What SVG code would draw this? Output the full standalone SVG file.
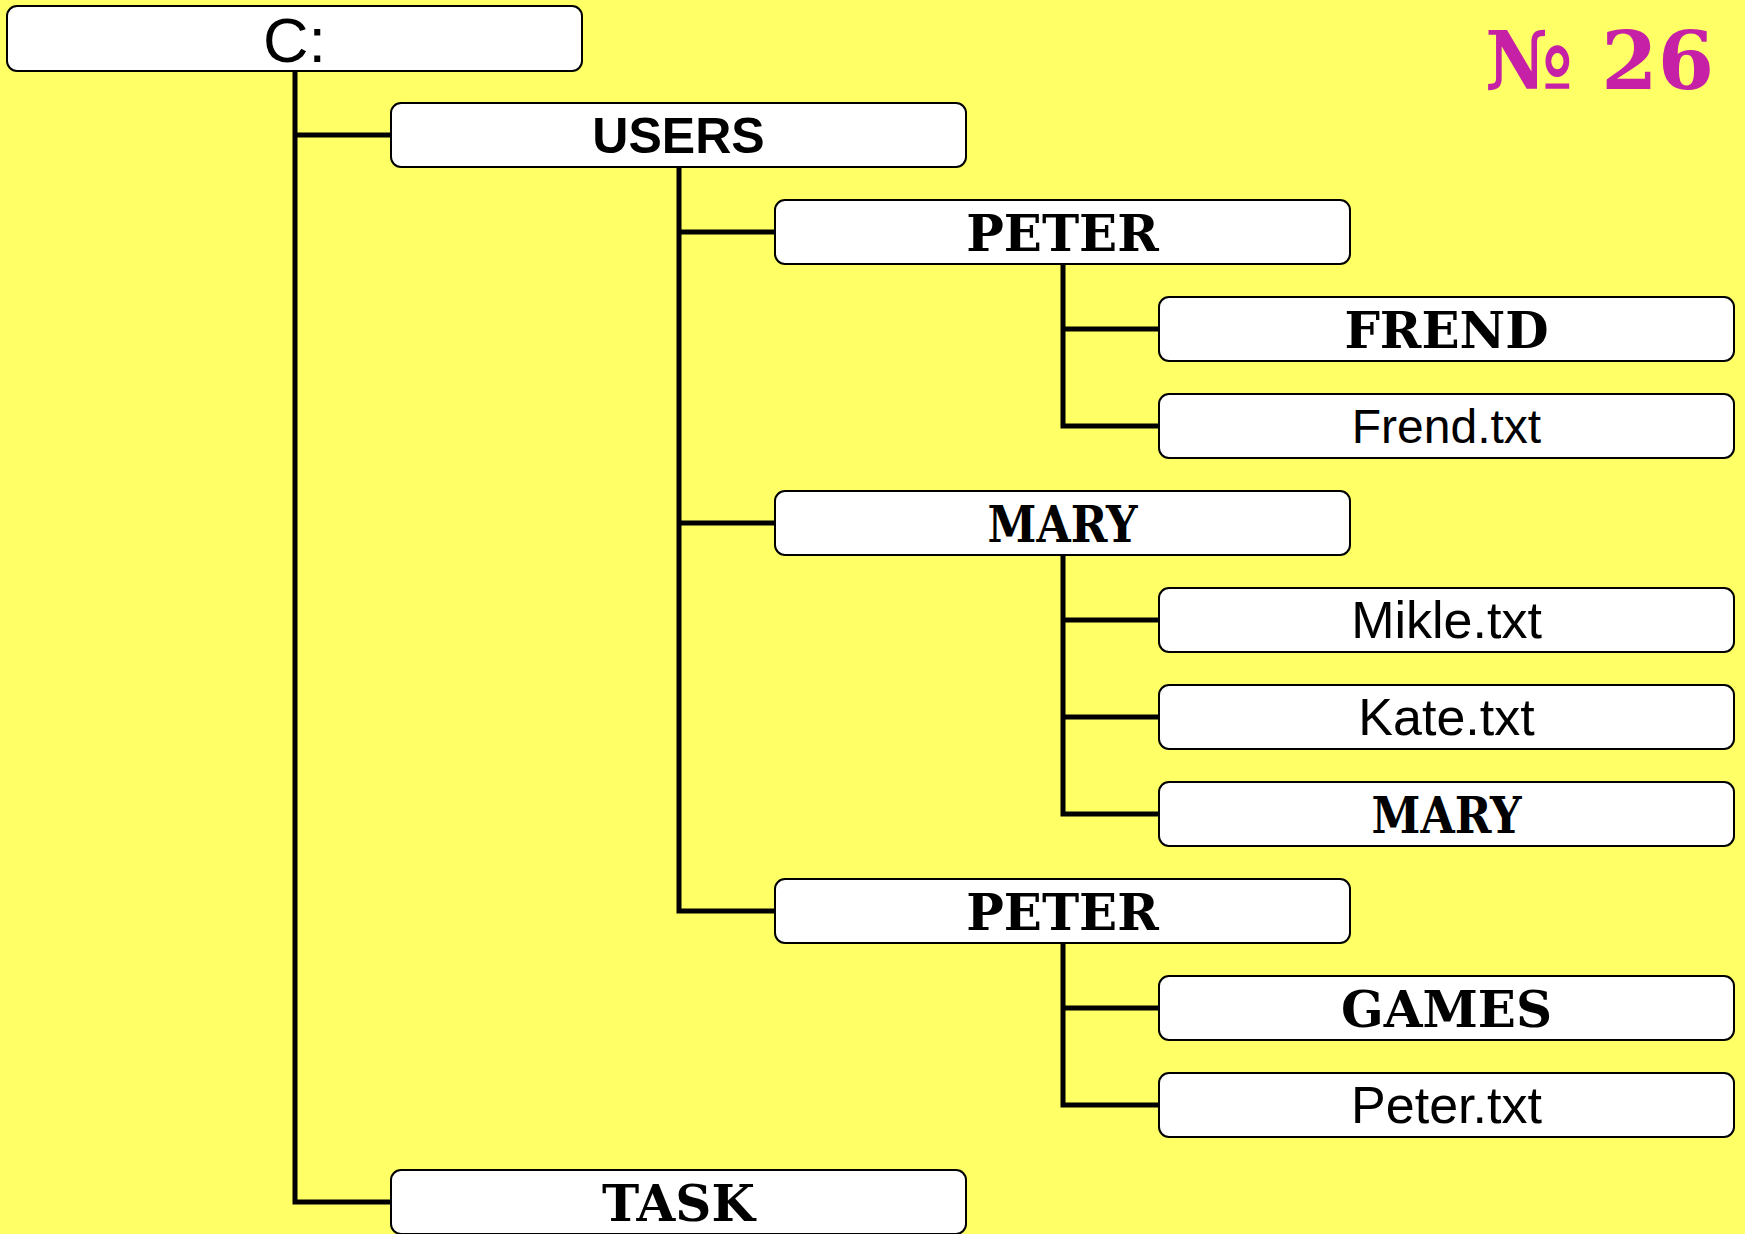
<svg xmlns="http://www.w3.org/2000/svg" width="1745" height="1234" viewBox="0 0 1745 1234">
<style>
.box{fill:#ffffff;stroke:#000000;stroke-width:2}
.sans{font-family:"Liberation Sans",Arial,sans-serif;font-size:52px;fill:#000;text-anchor:middle}
.sansb{font-family:"Liberation Sans",Arial,sans-serif;font-size:50px;font-weight:bold;fill:#000;text-anchor:middle}
.serb{font-family:"DejaVu Serif",serif;font-size:50px;font-weight:bold;fill:#000;text-anchor:middle}
.conn{fill:none;stroke:#000;stroke-width:5;stroke-linejoin:miter;stroke-linecap:butt}
</style>
<rect x="0" y="0" width="1745" height="1234" fill="#ffff66"/>
<text x="1714" y="89" font-family="DejaVu Serif,serif" font-weight="bold" font-size="81" fill="#c520a6" text-anchor="end">№ 26</text>
<g id="connectors">
<path class="conn" d="M295 71 V1202 H391 M295 135 H391"/>
<path class="conn" d="M679 167 V911 H775 M679 232 H775 M679 523 H775"/>
<path class="conn" d="M1063 264 V426 H1159 M1063 329 H1159"/>
<path class="conn" d="M1063 555 V814 H1159 M1063 620 H1159 M1063 717 H1159"/>
<path class="conn" d="M1063 943 V1105 H1159 M1063 1008 H1159"/>
</g>
<g id="c"><rect class="box" x="7" y="6" width="575" height="65" rx="10"/><text class="sans" style="font-size:63px" x="294.5" y="62">C:</text></g>
<g id="users"><rect class="box" x="391" y="103" width="575" height="64" rx="10"/><text class="sansb" x="678.5" y="153">USERS</text></g>
<g id="peter1"><rect class="box" x="775" y="200" width="575" height="64" rx="10"/><text class="serb" x="1062.5" y="251">PETER</text></g>
<g id="frend"><rect class="box" x="1159" y="297" width="575" height="64" rx="10"/><text class="serb" x="1446.5" y="348">FREND</text></g>
<g id="frendtxt"><rect class="box" x="1159" y="394" width="575" height="64" rx="10"/><text class="sans" style="font-size:48px" x="1446.5" y="443">Frend.txt</text></g>
<g id="mary1"><rect class="box" x="775" y="491" width="575" height="64" rx="10"/><text class="serb" x="1062.5" y="542" textLength="150" lengthAdjust="spacingAndGlyphs">MARY</text></g>
<g id="mikletxt"><rect class="box" x="1159" y="588" width="575" height="64" rx="10"/><text class="sans" x="1446.5" y="638">Mikle.txt</text></g>
<g id="katetxt"><rect class="box" x="1159" y="685" width="575" height="64" rx="10"/><text class="sans" x="1446.5" y="735">Kate.txt</text></g>
<g id="mary2"><rect class="box" x="1159" y="782" width="575" height="64" rx="10"/><text class="serb" x="1446.5" y="833" textLength="150" lengthAdjust="spacingAndGlyphs">MARY</text></g>
<g id="peter2"><rect class="box" x="775" y="879" width="575" height="64" rx="10"/><text class="serb" x="1062.5" y="930">PETER</text></g>
<g id="games"><rect class="box" x="1159" y="976" width="575" height="64" rx="10"/><text class="serb" x="1446.5" y="1027">GAMES</text></g>
<g id="petertxt"><rect class="box" x="1159" y="1073" width="575" height="64" rx="10"/><text class="sans" x="1446.5" y="1123">Peter.txt</text></g>
<g id="task"><rect class="box" x="391" y="1170" width="575" height="64" rx="10"/><text class="serb" x="678.5" y="1221">TASK</text></g>
</svg>
